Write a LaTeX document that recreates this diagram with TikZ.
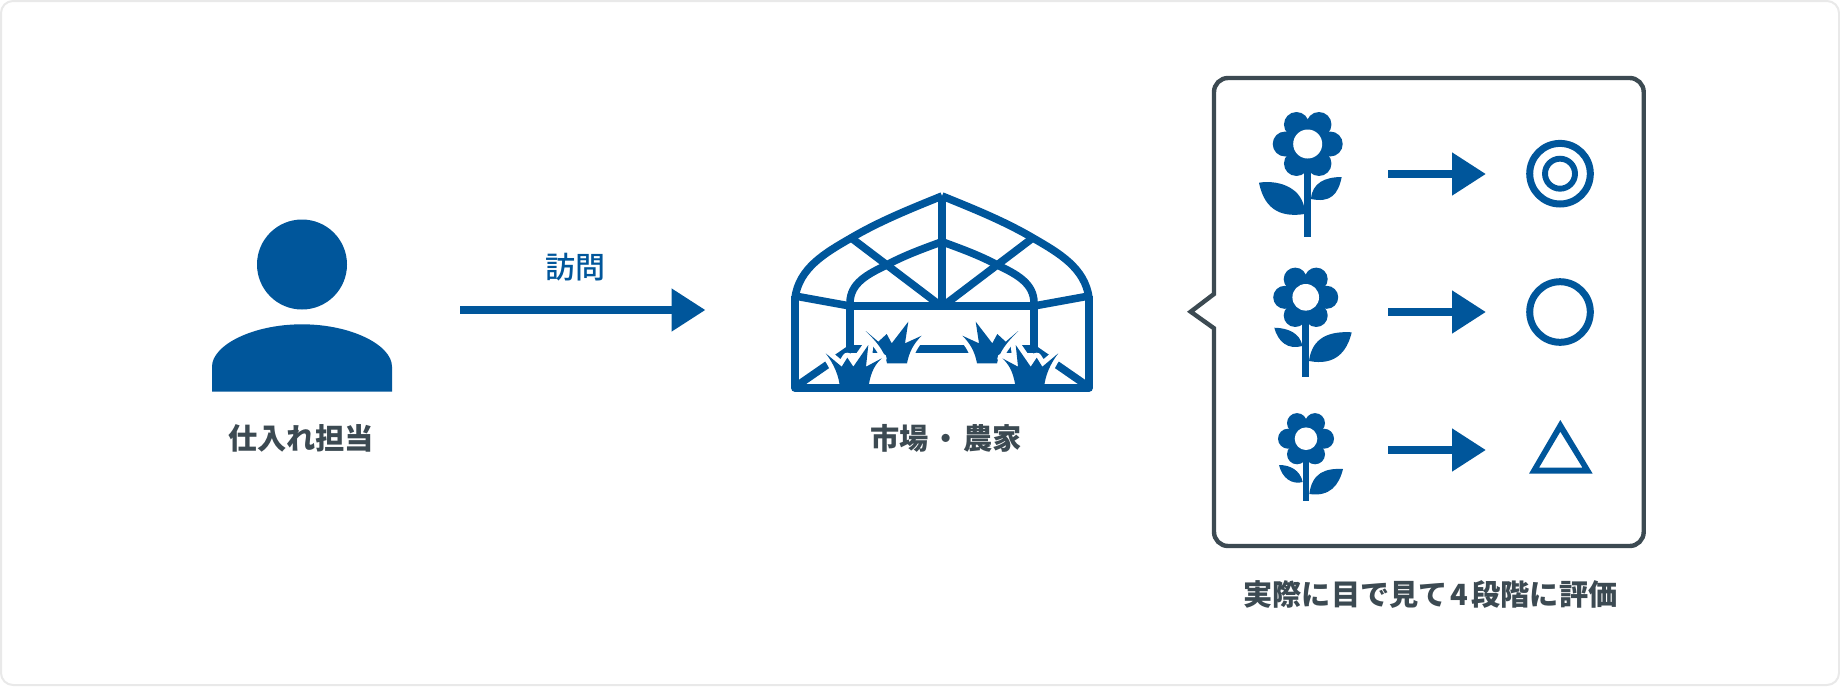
\documentclass[tikz,border=0pt]{standalone}
\usepackage{fontspec}
\setmainfont{Noto Sans CJK JP}
\newfontfamily\cjkmed{Noto Sans CJK JP Medium}
\usetikzlibrary{arrows.meta,calc}
\definecolor{brandblue}{HTML}{00569B}
\definecolor{inkdark}{HTML}{3C4A52}
\definecolor{edgegray}{HTML}{E9E9E9}
\tikzset{
  flowline/.style={brandblue,line width=4.3pt,-{Triangle[length=17pt,width=20.4pt]}},
  caption/.style={inkdark,font=\fontsize{14.6}{16}\selectfont\bfseries,inner sep=0pt},
  framebar/.style={brandblue,line width=3.8pt,line join=round},
  halo/.style={draw=white,fill=white,line width=5pt,line join=round},
  ring/.style={draw=brandblue,line width=3.5pt,fill=none},
}
\newcommand{\flowerhead}[5]{% cx cy petal-distance petal-radius hole
  \foreach \a in {0,60,...,300}{\fill[brandblue] ($(#1,#2)+(\a:#3)$) circle[radius=#4];}
  \fill[brandblue] (#1,#2) circle[radius=#3];
  \fill[white] (#1,#2) circle[radius=#5];
}
\newcommand{\smallplant}{
  (865.7,331) -- (878.3,341.7) -- (886.7,334) -- (891.7,343.3) -- (908.3,321.7) -- (905,343.3) -- (921.7,335.7) .. controls (914,343) and (909,352) .. (907,363.3) -- (887,363.3) .. controls (885,352) and (877,342) .. cycle}
\newcommand{\bigplant}{
  (825.7,353.3) -- (841.7,366.7) -- (847.3,357.7) -- (853.3,366.7) -- (868.3,345) -- (866,366.7) -- (881.7,358.3) .. controls (873,366) and (870,376) .. (868.3,388) -- (840,388) .. controls (839,376) and (834,364) .. cycle}
\newcommand{\halfhouse}{
  \draw[framebar,line join=miter] (795,298) .. controls (799,268) and (825,253) .. (851,238) .. controls (880,221) and (910,209) .. (942,196);
  \draw[framebar,line join=miter] (850,349) -- (850,303) .. controls (850,283) and (868,274) .. (886.7,265) .. controls (905,255) and (925,248) .. (942,241.7);
  \draw[framebar] (795,296) -- (850,306);
  \draw[framebar] (851.7,238.3) -- (937,303);
  \draw[framebar] (798,385) -- (850,349) -- (942,349);
  \draw[framebar] (942,306) -- (850,306);
  \draw[framebar] (795,296) -- (795,388) -- (942,388);
}
\begin{document}
\begin{tikzpicture}[x=0.5pt,y=-0.5pt]
\useasboundingbox (0,0) rectangle (1840,686);
\draw[edgegray,line width=1pt,fill=white,rounded corners=6pt] (1,1) rectangle (1839,685);

% person
\node[circle,fill=brandblue,minimum size=45pt,inner sep=0pt] (head) at (302,264.5) {};
\fill[brandblue] (212,391.7) -- (212,366.7) .. controls (212,345) and (253,324.3) .. (302,324.3) .. controls (351,324.3) and (392,345) .. (392,366.7) -- (392,391.7) -- cycle;
\node[caption] (buyer) at (301,438.7) {仕入れ担当};

% main arrow
\coordinate (visitstart) at (460.3,310);
\coordinate (visitend) at (705.5,310);
\draw[flowline] (visitstart) -- (visitend);
\node[text=brandblue,font=\fontsize{15}{16}\selectfont\cjkmed,inner sep=0pt] (visit) at (575.7,266.7) {訪問};

% greenhouse
\halfhouse
\begin{scope}[shift={(1884,0)},xscale=-1]
\halfhouse
\end{scope}
\draw[framebar] (942,196) -- (942,306);
\path[halo] \smallplant;
\fill[brandblue] \smallplant;
\begin{scope}[shift={(1884,0)},xscale=-1]
\path[halo] \smallplant;
\fill[brandblue] \smallplant;
\end{scope}
\path[halo] \bigplant;
\fill[brandblue] \bigplant;
\begin{scope}[shift={(1884,0)},xscale=-1]
\path[halo] \bigplant;
\fill[brandblue] \bigplant;
\end{scope}
\draw[framebar] (795,388) -- (1089,388);
\node[caption] (market) at (946,438.7) {市場\kern1.5pt・\kern1.5pt農家};

% callout
\draw[inkdark,line width=2.2pt,line join=miter,fill=white]
  (1214,294) -- (1214,92) arc[start angle=180,end angle=270,radius=14] -- (1629.7,78) arc[start angle=270,end angle=360,radius=14] -- (1643.7,532) arc[start angle=0,end angle=90,radius=14] -- (1228,546) arc[start angle=90,end angle=180,radius=14] -- (1214,328.3) -- (1190.7,311.7) -- cycle;
\node[caption] (assess) at (1430.5,594) {実際に目で見て\kern1.5pt4\kern1.5pt段階に評価};

% flower 1
\fill[brandblue] (1304.4,150) rectangle (1311,236.7);
\flowerhead{1307.7}{144}{22.5}{12.5}{14.5}
\fill[brandblue] (1259,182.7) .. controls (1275,180) and (1300,185) .. (1304.4,208) -- (1304.4,214) .. controls (1285,217) and (1265,213) .. cycle;
\fill[brandblue] (1341.7,177) .. controls (1325,177) and (1312,183) .. (1311,199) .. controls (1330,203) and (1338,195) .. cycle;

% flower 2
\fill[brandblue] (1302.4,305) rectangle (1309,376.7);
\flowerhead{1305.7}{297.3}{21}{11.5}{13.3}
\fill[brandblue] (1274.3,327.7) .. controls (1288,328) and (1300,333) .. (1302.4,346) .. controls (1288,350) and (1278,342) .. cycle;
\fill[brandblue] (1351.7,332.3) .. controls (1330,331) and (1312,337) .. (1309,361) .. controls (1335,366) and (1347,352) .. cycle;

% flower 3
\fill[brandblue] (1302.7,445) rectangle (1309.3,500.7);
\flowerhead{1306}{438.7}{18}{10}{11.3}
\fill[brandblue] (1279,465) .. controls (1290,465) and (1300,470) .. (1302.7,482) .. controls (1292,485) and (1282,478) .. cycle;
\fill[brandblue] (1343,469) .. controls (1325,468) and (1312,473) .. (1309.3,494) .. controls (1330,497) and (1339,485) .. cycle;

% grade arrows
\foreach \n/\yy in {one/174,two/312,three/450}{
  \coordinate (from\n) at (1388,\yy);
  \coordinate (to\n) at (1486,\yy);
  \draw[flowline] (from\n) -- (to\n);
}

% grades
\draw[ring] (1560,173.7) circle[radius=30.3];
\draw[ring,line width=2.95pt] (1560,173.7) circle[radius=15];
\draw[ring] (1560,312) circle[radius=30.3];
\fill[brandblue,even odd rule] (1560.3,420) -- (1592.7,473.7) -- (1529,473.7) -- cycle (1560.3,431.7) -- (1539,467.7) -- (1582.5,467.7) -- cycle;
\end{tikzpicture}
\end{document}
